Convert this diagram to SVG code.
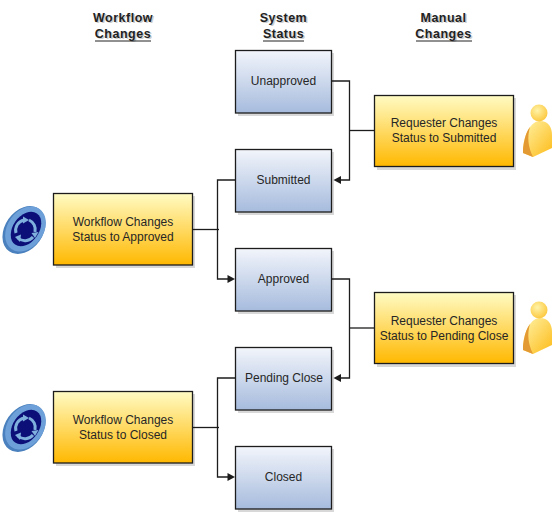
<svg xmlns="http://www.w3.org/2000/svg" width="554" height="513" viewBox="0 0 554 513">
<style>
.lbl{font-family:"Liberation Sans",Arial,sans-serif;font-size:12px;fill:#262626;text-anchor:middle}
.hd{font-family:"Liberation Sans",Arial,sans-serif;font-size:12.5px;font-weight:bold;fill:#222;text-anchor:middle;letter-spacing:.5px}
.hds{fill:#ccc}
.box{stroke:#1c1c1c;stroke-width:1.3}
.sh{fill:#d8d8d8}
.c{fill:none;stroke:#1c1c1c;stroke-width:1.3}
.ar{fill:#1c1c1c}
</style>
<defs>
<linearGradient id="blue" x1="0" y1="0" x2="0" y2="1"><stop offset="0" stop-color="#f2f5fb"/><stop offset="1" stop-color="#a6bbdd"/></linearGradient>
<linearGradient id="gold" x1="0" y1="0" x2="0" y2="1"><stop offset="0" stop-color="#fffbc4"/><stop offset="1" stop-color="#ffb800"/></linearGradient>
<linearGradient id="body" x1="0" y1="0" x2="1" y2="1"><stop offset="0" stop-color="#fff3a8"/><stop offset="1" stop-color="#fdbb18"/></linearGradient>
<radialGradient id="head" cx=".4" cy=".35" r=".7"><stop offset="0" stop-color="#fff3a8"/><stop offset="1" stop-color="#fcc63a"/></radialGradient>
<g id="wf">
<ellipse cx="0" cy="0" rx="19" ry="26" transform="rotate(35)" fill="#4a80bd"/>
<ellipse cx="1.500" cy="-1" rx="18" ry="24.500" transform="rotate(35 1.500 -1)" fill="#6da0d8"/>
<ellipse cx="2" cy="-1" rx="13" ry="19" transform="rotate(35 2 -1)" fill="#0c0f78"/>
<g fill="none" stroke="#7fb0dd" stroke-width="3">
<path d="M-8 3A10.500 10.500 0 0 1 0 -10"/>
<path d="M5 -10A10.500 10.500 0 0 1 11 2"/>
<path d="M9 7A10.500 10.500 0 0 1 -6 8"/>
</g>
<g fill="#7fb0dd">
<path d="M-1 -13.500L5 -10L-1 -6.500Z"/>
<path d="M7.500 3L14.500 2L11 8Z"/>
<path d="M-3 4.500L-9 7L-4 12Z"/>
</g>
</g>
<g id="person">
<path d="M0 8C1 -7 8 -20 17 -20C25 -20 29 -14 29 -6V7L10 16L0 12Z" fill="url(#body)"/>
<path d="M0 8C1 -1 3 -9 7 -14C4 -4 5 6 10 16L0 12Z" fill="#e39a33"/>
<circle cx="16" cy="-28" r="8.500" fill="url(#head)"/>
</g>
</defs>

<g id="headers">
<text class="hd hds" x="124.500" y="23">Workflow</text><text class="hd" x="123" y="22">Workflow</text>
<text class="hd hds" x="124.500" y="39">Changes</text><text class="hd" x="123" y="38">Changes</text>
<path d="M95 41H151" stroke="#222" stroke-width="1"/>
<text class="hd hds" x="285" y="23">System</text><text class="hd" x="283.500" y="22">System</text>
<text class="hd hds" x="285" y="39">Status</text><text class="hd" x="283.500" y="38">Status</text>
<path d="M263 41H304" stroke="#222" stroke-width="1"/>
<text class="hd hds" x="445" y="23">Manual</text><text class="hd" x="443.500" y="22">Manual</text>
<text class="hd hds" x="445" y="39">Changes</text><text class="hd" x="443.500" y="38">Changes</text>
<path d="M416 41H472" stroke="#222" stroke-width="1"/>
</g>

<g id="unapproved"><rect class="sh" x="238" y="53" width="96" height="63"/><rect class="box" x="235.500" y="50.500" width="96" height="62.500" fill="url(#blue)"/><text class="lbl" x="283.500" y="85">Unapproved</text></g>
<g id="submitted"><rect class="sh" x="238" y="152" width="96" height="63"/><rect class="box" x="235.500" y="149.500" width="96" height="62.500" fill="url(#blue)"/><text class="lbl" x="283.500" y="184">Submitted</text></g>
<g id="approved"><rect class="sh" x="238" y="251" width="96" height="63"/><rect class="box" x="235.500" y="248.500" width="96" height="62.500" fill="url(#blue)"/><text class="lbl" x="283.500" y="283">Approved</text></g>
<g id="pending-close"><rect class="sh" x="238" y="350" width="96" height="63"/><rect class="box" x="235.500" y="347.500" width="96" height="62.500" fill="url(#blue)"/><text class="lbl" x="284" y="382">Pending Close</text></g>
<g id="closed"><rect class="sh" x="238" y="449" width="96" height="63"/><rect class="box" x="235.500" y="446.500" width="96" height="62.500" fill="url(#blue)"/><text class="lbl" x="283.500" y="481">Closed</text></g>

<g id="workflow-approved"><rect class="sh" x="56" y="196" width="139" height="72"/><rect class="box" x="53.500" y="193.500" width="139" height="71.500" fill="url(#gold)"/><text class="lbl" x="123" y="226">Workflow Changes</text><text class="lbl" x="123" y="241">Status to Approved</text></g>
<g id="workflow-closed"><rect class="sh" x="56" y="394" width="139" height="72"/><rect class="box" x="53.500" y="391.500" width="139" height="71.500" fill="url(#gold)"/><text class="lbl" x="123" y="424">Workflow Changes</text><text class="lbl" x="123" y="439">Status to Closed</text></g>
<g id="requester-submitted"><rect class="sh" x="377" y="98" width="139" height="72"/><rect class="box" x="374.500" y="95.500" width="139" height="71" fill="url(#gold)"/><text class="lbl" x="444" y="127">Requester Changes</text><text class="lbl" x="444" y="142">Status to Submitted</text></g>
<g id="requester-pending"><rect class="sh" x="377" y="295" width="139" height="72"/><rect class="box" x="374.500" y="292.500" width="139" height="71" fill="url(#gold)"/><text class="lbl" x="444" y="325">Requester Changes</text><text class="lbl" x="444" y="340">Status to Pending Close</text></g>

<g id="connectors">
<path class="c" d="M331.500 81H349.500V180H340"/>
<path class="c" d="M349.500 130.500H374.500"/>
<path class="ar" d="M333.500 180L341 176V184Z"/>
<path class="c" d="M331.500 279H349.500V378H340"/>
<path class="c" d="M349.500 328H374.500"/>
<path class="ar" d="M333.500 378L341 374V382Z"/>
<path class="c" d="M235.500 180H217.500V279H228"/>
<path class="c" d="M192.500 229.500H219"/>
<path class="ar" d="M235 279L227.500 275V283Z"/>
<path class="c" d="M235.500 378H217.500V477H228"/>
<path class="c" d="M192.500 427.500H219"/>
<path class="ar" d="M235 477L227.500 473V481Z"/>
</g>

<g id="icon-workflow-1"><use href="#wf" x="24" y="230"/></g>
<g id="icon-workflow-2"><use href="#wf" x="24" y="428"/></g>
<g id="icon-person-1"><use href="#person" x="523" y="141"/></g>
<g id="icon-person-2"><use href="#person" x="523" y="338"/></g>
</svg>
